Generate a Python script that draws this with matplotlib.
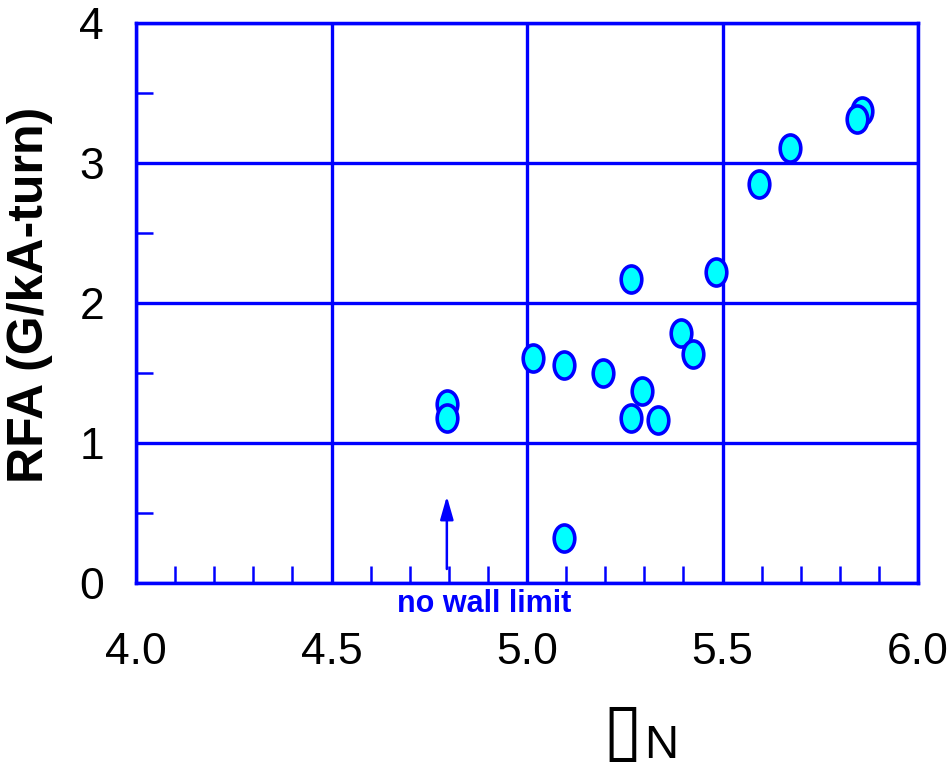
import matplotlib
matplotlib.use("Agg")
import matplotlib.pyplot as plt
from matplotlib import font_manager
from matplotlib.path import Path
from matplotlib.transforms import Affine2D
from matplotlib.ticker import MultipleLocator, FormatStrFormatter

# Normalized beta vs. resonant field amplification
beta_n = [4.795, 4.795, 5.015, 5.095, 5.195, 5.293, 5.265, 5.334, 5.265,
          5.394, 5.425, 5.483, 5.095, 5.594, 5.673, 5.856, 5.843]
rfa = [1.281, 1.176, 1.609, 1.557, 1.498, 1.374, 1.176, 1.164, 2.171,
       1.788, 1.638, 2.221, 0.321, 2.850, 3.109, 3.374, 3.313]

no_wall_beta = 4.795
arrow_from, arrow_to = 0.10, 0.62

BLUE = "#0000FF"
CYAN = "#00FFFF"

installed = {f.name for f in font_manager.fontManager.ttflist}
narrow = "Liberation Sans Narrow" in installed
tick_family = ["Liberation Sans Narrow", "Liberation Sans"] if narrow else ["Liberation Sans"]
tick_size = 34 if narrow else 32
note_size = 25 if narrow else 22

fig = plt.figure(figsize=(9.51, 7.69), dpi=100)
ax = fig.add_axes([136 / 951, 1 - 583 / 769, 782 / 951, 560 / 769])

ax.set_xlim(4.0, 6.0)
ax.set_ylim(0, 4)

for s in ax.spines.values():
    s.set_color(BLUE)
    s.set_linewidth(2.5)

ax.xaxis.set_major_locator(MultipleLocator(0.5))
ax.xaxis.set_minor_locator(MultipleLocator(0.1))
ax.yaxis.set_major_locator(MultipleLocator(1))
ax.yaxis.set_minor_locator(MultipleLocator(0.5))
ax.xaxis.set_major_formatter(FormatStrFormatter("%.1f"))
ax.yaxis.set_major_formatter(FormatStrFormatter("%d"))

ax.grid(True, which="major", color=BLUE, linewidth=2.4)
ax.set_axisbelow(True)

ax.tick_params(axis="x", which="major", length=0, pad=35, labelsize=tick_size)
ax.tick_params(axis="y", which="major", length=0, pad=23, labelsize=tick_size)
ax.tick_params(which="minor", direction="in", length=12, width=1.8, color=BLUE)
ax.tick_params(which="both", top=False, right=False)
for lab in ax.get_xticklabels() + ax.get_yticklabels():
    lab.set_family(tick_family)

# tall ellipse marker
ellipse = Path.unit_circle().transformed(Affine2D().scale(0.76, 1.0))
for x, y in zip(beta_n, rfa):
    ax.plot([x], [y], linestyle="none", marker=ellipse, markersize=19.5,
            markerfacecolor=CYAN, markeredgecolor=BLUE, markeredgewidth=2.6,
            zorder=3, clip_on=False)

ax.annotate("", xy=(no_wall_beta, arrow_to), xytext=(no_wall_beta, arrow_from),
            arrowprops=dict(arrowstyle="-|>,head_length=1.4,head_width=0.4",
                            color=BLUE, lw=1.8, shrinkA=0, shrinkB=0))
ax.text(4.891, -0.207, "no wall limit", color=BLUE, fontsize=note_size,
        fontweight="bold", family=tick_family, ha="center", va="baseline",
        clip_on=False)

fig.text(30 / 951, 1 - 295 / 769, "RFA (G/kA-turn)", rotation=90,
         ha="center", va="center", fontsize=36, fontweight="bold",
         family=["Liberation Sans", "DejaVu Sans"])

# x-axis title: box glyph followed by N
fig.text(642 / 951, 1 - 734 / 769, "\u25AF", ha="right", va="center",
         fontsize=52, family=["DejaVu Sans"])
fig.text(644 / 951, 1 - 758 / 769, "N", ha="left", va="baseline",
         fontsize=34, family=tick_family)

fig.savefig("out.png", dpi=100)
